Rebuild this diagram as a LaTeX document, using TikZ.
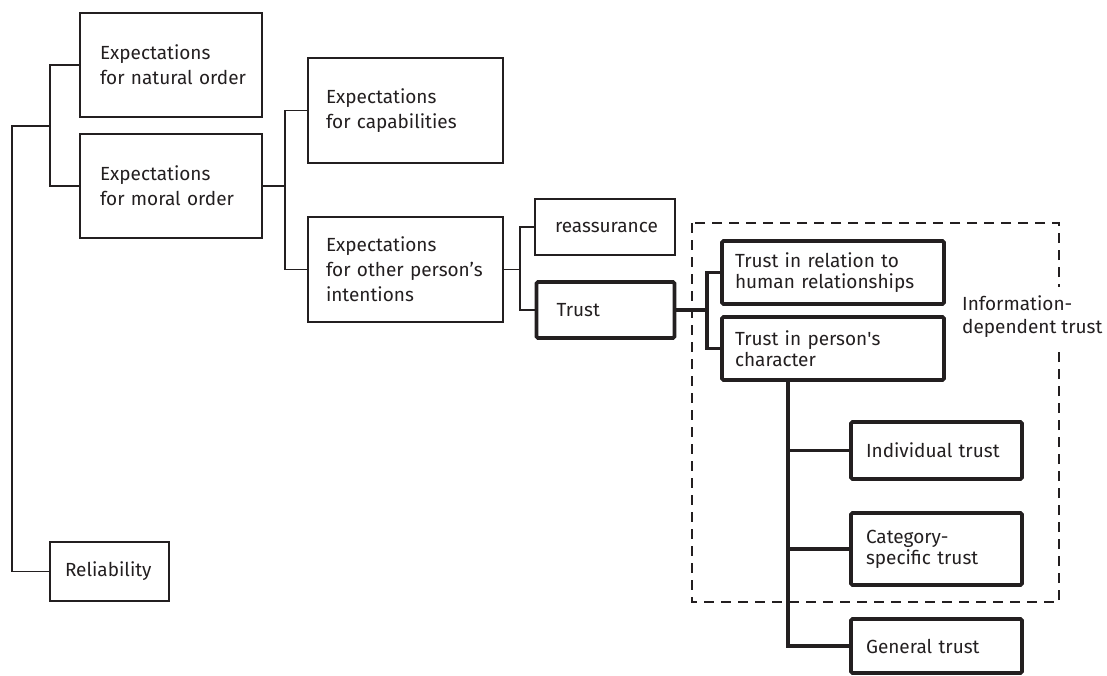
\documentclass[tikz,border=0pt]{standalone}
\usepackage{fontspec}
\setmainfont{Fira Sans}
\usetikzlibrary{positioning,calc}
\definecolor{InkBlack}{RGB}{35,31,32}
\tikzset{
	frame/.style={draw=InkBlack,line width=1.4pt,inner xsep=0pt,inner ysep=0pt,
		align=left,text=InkBlack,font=\fontsize{19}{25}\selectfont},
	bold frame/.style={frame,line width=3.6pt,rounded corners=1.5pt,
		font=\fontsize{19}{21}\selectfont},
	size/.style 2 args={text width=#1pt,minimum width=#1pt,minimum height=#2pt},
	pad/.style={execute at begin node={\leftskip=#1pt}},
	link/.style={draw=InkBlack,line width=1.4pt},
	bold link/.style={draw=InkBlack,line width=3.6pt},
	infoframe/.style={draw=InkBlack,line width=2.8pt,dash pattern=on 10pt off 7pt},
}
\begin{document}
\begin{tikzpicture}[x=1pt,y=-1pt]
	\useasboundingbox (0,0) rectangle (1107,675);
	\node[frame,size={182}{104},pad=20] (nat) at (171,65) {Expectations\\for natural order};
	\node[frame,size={182}{104},pad=20] (moral) at (171,186) {Expectations\\for moral order};
	\node[frame,size={195}{105},pad=18] (capab) at (405.5,110.5) {Expectations\\for capabilities};
	\node[frame,size={195}{105},pad=18] (intent) at (405.5,269.5) {Expectations\\for other person’s\\intentions};
	\node[frame,size={140}{56},pad=20] (reass) at (605,227) {reassurance};
	\node[frame,size={119}{59},pad=15] (reliab) at (109.5,571.5) {Reliability};
	\draw[infoframe] (692,223) rectangle (1059,602);
	\node[bold frame,size={138}{56},pad=20] (trust) at (605.5,310) {Trust};
	\node[bold frame,size={222}{63},pad=13] (rel) at (833,272.5) {Trust in relation to\\human relationships};
	\node[bold frame,size={222}{63},pad=13] (char) at (833,348.5) {Trust in person\textquotesingle s\\character};
	\node[bold frame,size={171}{57},pad=15] (indiv) at (936.5,450.5) {Individual trust};
	\node[bold frame,size={171}{72},pad=15] (categ) at (936.5,549) {Category-\\specific trust};
	\node[bold frame,size={171}{54},pad=15] (general) at (936.5,646) {General trust};
	\node[fill=white,inner xsep=4pt,inner ysep=9pt,align=left,text=InkBlack,
		font=\fontsize{19}{23}\selectfont,anchor=west] (infolabel) at (958,317) {Information-\\dependent trust};

	\coordinate (root) at (12,126);
	\coordinate (j1) at (50,126);
	\coordinate (j2) at (285,186);
	\coordinate (j3) at (520,269.5);
	\coordinate (j4) at (707,310);
	\coordinate (j5) at (788,380);

	\draw[link] (reliab.west) -| (root) -- (j1);
	\draw[link] (nat.west) -| (j1) |- (moral.west);
	\draw[link] (moral.east) -- (j2);
	\draw[link] (capab.west) -| (j2) |- (intent.west);
	\draw[link] (intent.east) -- (j3);
	\draw[link] (reass.west) -| (j3) |- (trust.west);
	\draw[bold link] (trust.east) -- (j4);
	\draw[bold link] (rel.west) -| (j4) |- (char.west);
	\draw[bold link] (j5) |- (general.west);
	\foreach \n in {indiv,categ}
	\draw[bold link] (\n.west) -- (\n.west -| j5);
\end{tikzpicture}
\end{document}
